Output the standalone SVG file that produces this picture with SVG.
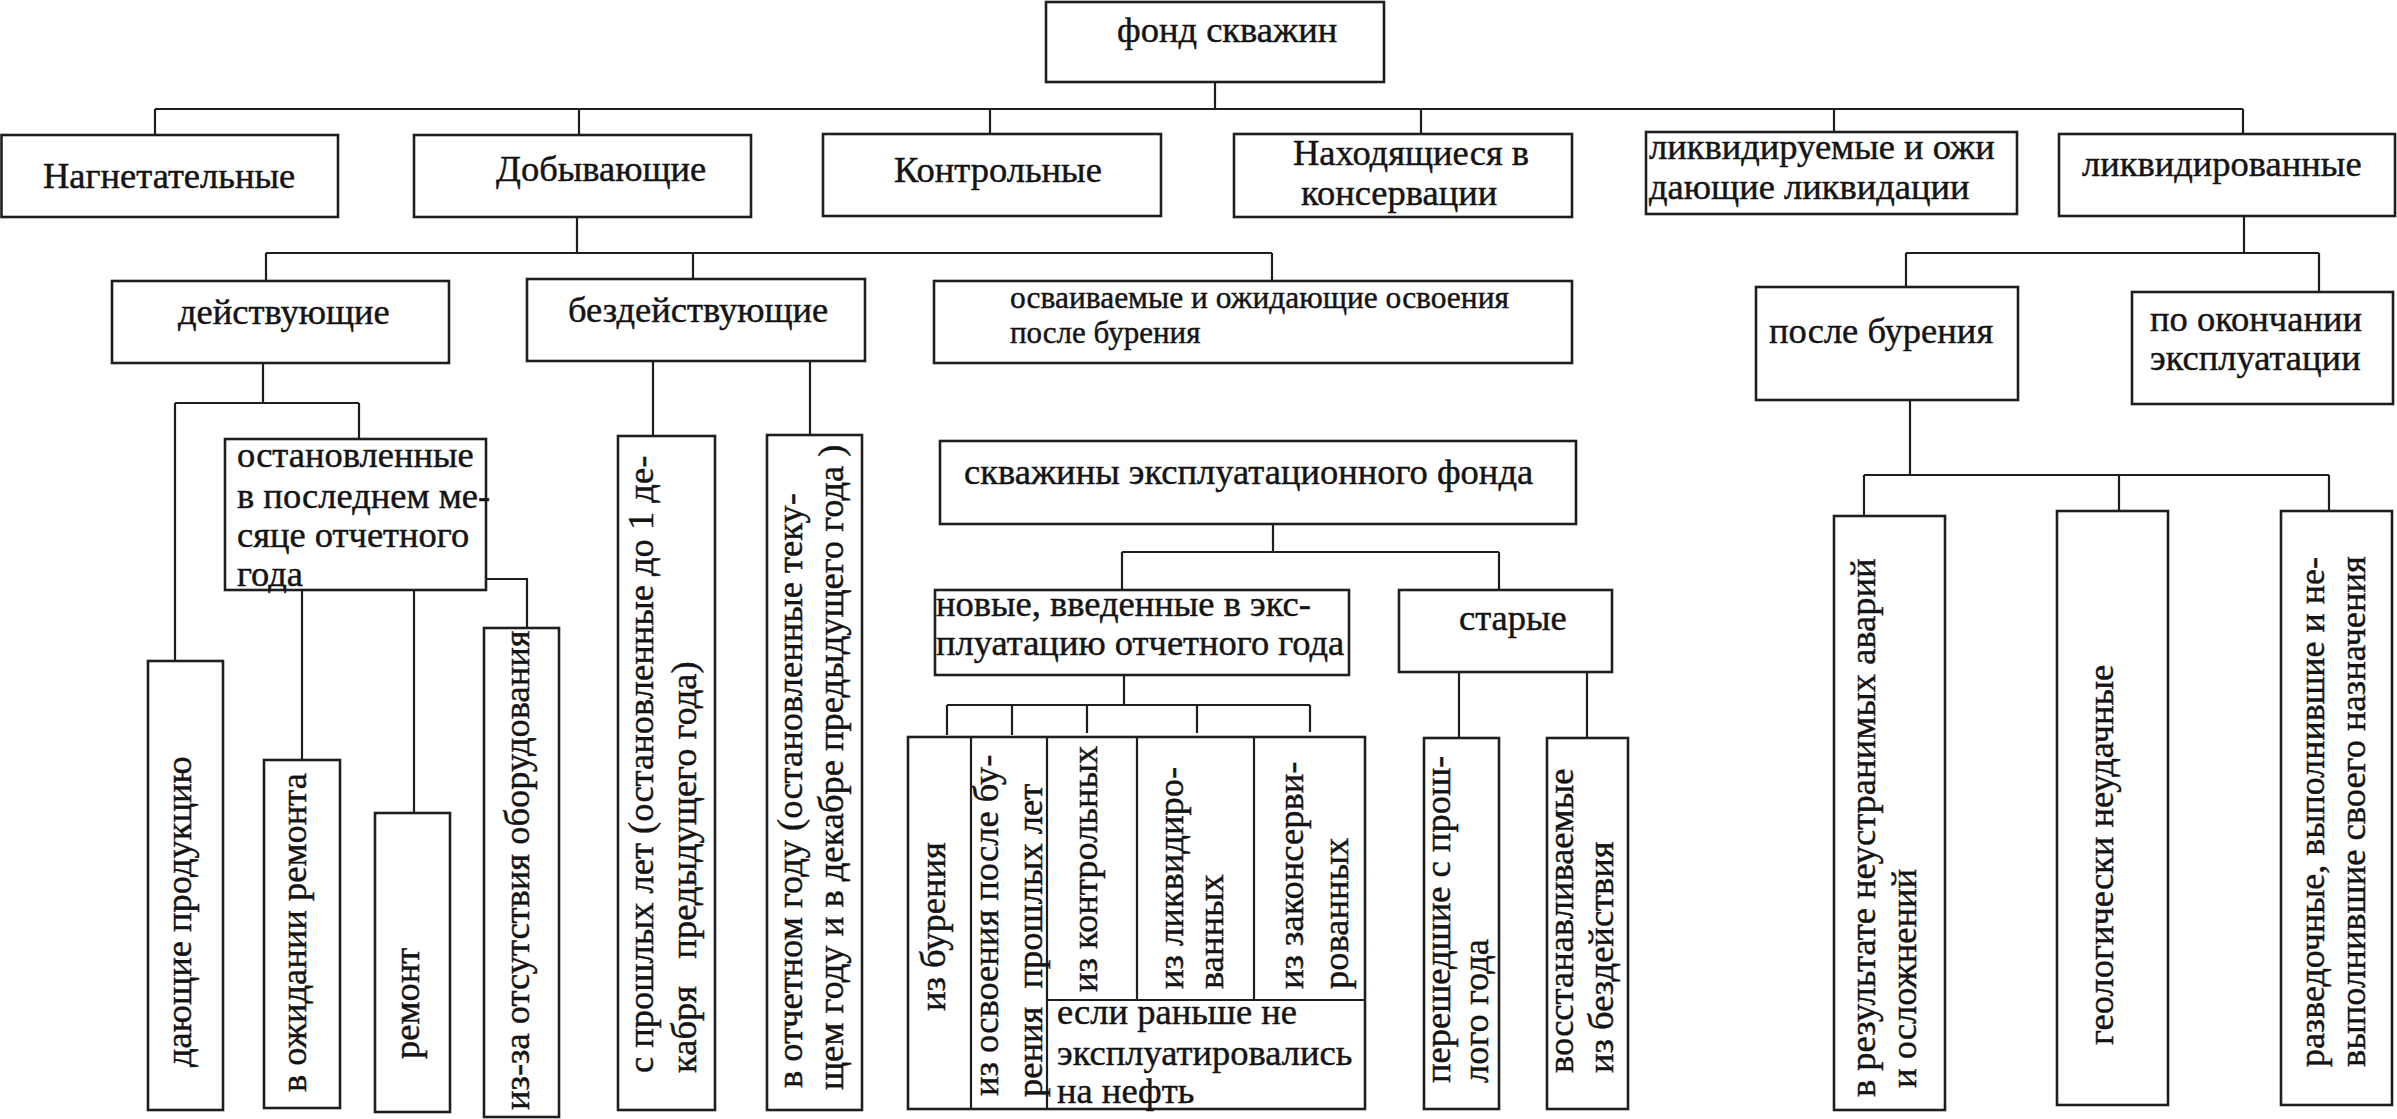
<svg xmlns="http://www.w3.org/2000/svg" width="2397" height="1119" viewBox="0 0 2397 1119">
<style>
  .bg { fill: #ffffff; }
  .box { fill: #ffffff; stroke: #1e1e1e; stroke-width: 2.6; }
  .ln { fill: none; stroke: #1e1e1e; stroke-width: 2.2; }
  text { font-family: "Liberation Serif", "Times New Roman", "DejaVu Serif", serif; font-size: 36.5px; fill: #141414; stroke: #141414; stroke-width: 0.45; }
  .sm { font-size: 31px; }
</style>
<rect class="bg" x="0" y="0" width="2397" height="1119"/>

<g id="connectors">
  <path class="ln" d="M1215 82 V109 M155 109 H2243 M155 109 V135 M579 109 V135 M990 109 V134 M1421 109 V134 M1834 109 V132 M2243 109 V134"/>
  <path class="ln" d="M577 217 V253 M266 253 H1272 M266 253 V281 M693 253 V279 M1272 253 V281"/>
  <path class="ln" d="M2244 216 V253 M1906 253 H2319 M1906 253 V287 M2319 253 V292"/>
  <path class="ln" d="M1910 400 V475 M1864 475 H2329 M1864 475 V516 M2119 475 V511 M2329 475 V511"/>
  <path class="ln" d="M263 363 V403 M175 403 H359 M175 403 V661 M359 403 V439"/>
  <path class="ln" d="M302 588 V760 M414 590 V813 M486 579 H527 V628"/>
  <path class="ln" d="M653 361 V436 M810 357 V435"/>
  <path class="ln" d="M1273 524 V552 M1122 552 H1499 M1122 552 V590 M1499 552 V590"/>
  <path class="ln" d="M1124 675 V705 M947 705 H1310 M947 705 V735 M1012 705 V735 M1087 705 V733 M1197 705 V733 M1310 705 V732"/>
  <path class="ln" d="M1459 672 V738 M1587 672 V738"/>
</g>

<g id="n-fond"><rect class="box" x="1046" y="2" width="338" height="80"/><text x="1117" y="42">фонд скважин</text></g>
<g id="n-nagnet"><rect class="box" x="1.5" y="135" width="336.5" height="82"/><text x="43" y="188">Нагнетательные</text></g>
<g id="n-dobyv"><rect class="box" x="414" y="135" width="337" height="82"/><text x="496" y="181">Добывающие</text></g>
<g id="n-kontr"><rect class="box" x="823" y="134" width="338" height="82"/><text x="894" y="182">Контрольные</text></g>
<g id="n-konserv"><rect class="box" x="1234" y="134" width="338" height="83"/><text x="1293" y="165">Находящиеся в</text><text x="1301" y="205">консервации</text></g>
<g id="n-likv-ozh"><rect class="box" x="1646" y="132" width="371" height="82"/><text x="1649" y="159">ликвидируемые и ожи</text><text x="1649" y="199">дающие ликвидации</text></g>
<g id="n-likvidir"><rect class="box" x="2059" y="134" width="336" height="82"/><text x="2082" y="176">ликвидированные</text></g>

<g id="n-deystv"><rect class="box" x="112" y="281" width="337" height="82"/><text x="178" y="324">действующие</text></g>
<g id="n-bezd"><rect class="box" x="527" y="279" width="338" height="82"/><text x="568" y="322">бездействующие</text></g>
<g id="n-osvaiv"><rect class="box" x="934" y="281" width="638" height="82"/><text class="sm" x="1010" y="308" textLength="499" lengthAdjust="spacingAndGlyphs">осваиваемые и ожидающие освоения</text><text class="sm" x="1010" y="343">после бурения</text></g>
<g id="n-posle-bur"><rect class="box" x="1756" y="287" width="262" height="113"/><text x="1769" y="343">после бурения</text></g>
<g id="n-po-okonch"><rect class="box" x="2132" y="292" width="261" height="112"/><text x="2150" y="331">по окончании</text><text x="2150" y="370">эксплуатации</text></g>

<g id="n-ostanovl"><rect class="box" x="225" y="439" width="261" height="151"/>
  <text x="237" y="467">остановленные</text><text x="237" y="508">в последнем ме-</text><text x="237" y="547">сяце отчетного</text><text x="237" y="586">года</text></g>
<g id="n-dayush"><rect class="box" x="148" y="661" width="75" height="449"/><text transform="translate(191 1067) rotate(-90)">дающие продукцию</text></g>
<g id="n-v-ozhid"><rect class="box" x="264" y="760" width="76" height="348"/><text transform="translate(306 1092) rotate(-90)">в ожидании ремонта</text></g>
<g id="n-remont"><rect class="box" x="375" y="813" width="75" height="299"/><text transform="translate(419 1059) rotate(-90)">ремонт</text></g>
<g id="n-iz-za"><rect class="box" x="484" y="628" width="75" height="489"/><text transform="translate(529 1110) rotate(-90)">из-за отсутствия оборудования</text></g>

<g id="n-s-proshl"><rect class="box" x="618" y="436" width="97" height="674"/>
  <text transform="translate(653 1073) rotate(-90)">с прошлых лет (остановленные до 1 де-</text>
  <text xml:space="preserve" transform="translate(696 1073) rotate(-90)">кабря   предыдущего года)</text></g>
<g id="n-v-otchet"><rect class="box" x="767" y="435" width="95" height="675"/>
  <text transform="translate(802 1088) rotate(-90)">в отчетном году (остановленные теку-</text>
  <text transform="translate(843 1090) rotate(-90)">щем году и в декабре предыдущего года )</text></g>

<g id="n-skv-expl"><rect class="box" x="940" y="441" width="636" height="83"/><text x="964" y="484">скважины эксплуатационного фонда</text></g>
<g id="n-novye"><rect class="box" x="935" y="590" width="414" height="85"/><text x="936" y="616">новые, введенные в экс-</text><text x="936" y="655">плуатацию отчетного года</text></g>
<g id="n-starye"><rect class="box" x="1399" y="590" width="213" height="82"/><text x="1459" y="630">старые</text></g>

<g id="n-istochniki">
  <rect class="box" x="908" y="737" width="457" height="372"/>
  <path class="ln" d="M971 737 V1109 M1047 737 V1109 M1137 737 V1000 M1254 737 V1000 M1047 1000 H1365"/>
  <text transform="translate(945 1011) rotate(-90)">из бурения</text>
  <text transform="translate(998 1096) rotate(-90)">из освоения после бу-</text>
  <text xml:space="preserve" transform="translate(1042 1097) rotate(-90)">рения  прошлых лет</text>
  <text transform="translate(1097 992) rotate(-90)">из контрольных</text>
  <text transform="translate(1183 989) rotate(-90)">из ликвидиро-</text>
  <text transform="translate(1223 989) rotate(-90)">ванных</text>
  <text transform="translate(1303 989) rotate(-90)">из законсерви-</text>
  <text transform="translate(1348 989) rotate(-90)">рованных</text>
  <text x="1057" y="1024">если раньше не</text>
  <text x="1057" y="1065">эксплуатировались</text>
  <text x="1057" y="1103">на нефть</text>
</g>

<g id="n-pereshed"><rect class="box" x="1424" y="738" width="75" height="371"/>
  <text transform="translate(1450 1083) rotate(-90)">перешедшие с прош-</text>
  <text transform="translate(1488 1083) rotate(-90)">лого года</text></g>
<g id="n-vosstan"><rect class="box" x="1547" y="738" width="81" height="371"/>
  <text transform="translate(1573 1073) rotate(-90)">восстанавливаемые</text>
  <text transform="translate(1613 1073) rotate(-90)">из бездействия</text></g>

<g id="n-avarii"><rect class="box" x="1834" y="516" width="111" height="594"/>
  <text transform="translate(1875 1097) rotate(-90)">в результате неустранимых аварий</text>
  <text transform="translate(1916 1088) rotate(-90)">и осложнений</text></g>
<g id="n-geolog"><rect class="box" x="2057" y="511" width="111" height="594"/>
  <text transform="translate(2113 1045) rotate(-90)">геологически неудачные</text></g>
<g id="n-razved"><rect class="box" x="2281" y="511" width="111" height="594"/>
  <text transform="translate(2324 1067) rotate(-90)" textLength="510" lengthAdjust="spacingAndGlyphs">разведочные, выполнившие и не-</text>
  <text transform="translate(2365 1067) rotate(-90)">выполнившие своего назначения</text></g>
</svg>
